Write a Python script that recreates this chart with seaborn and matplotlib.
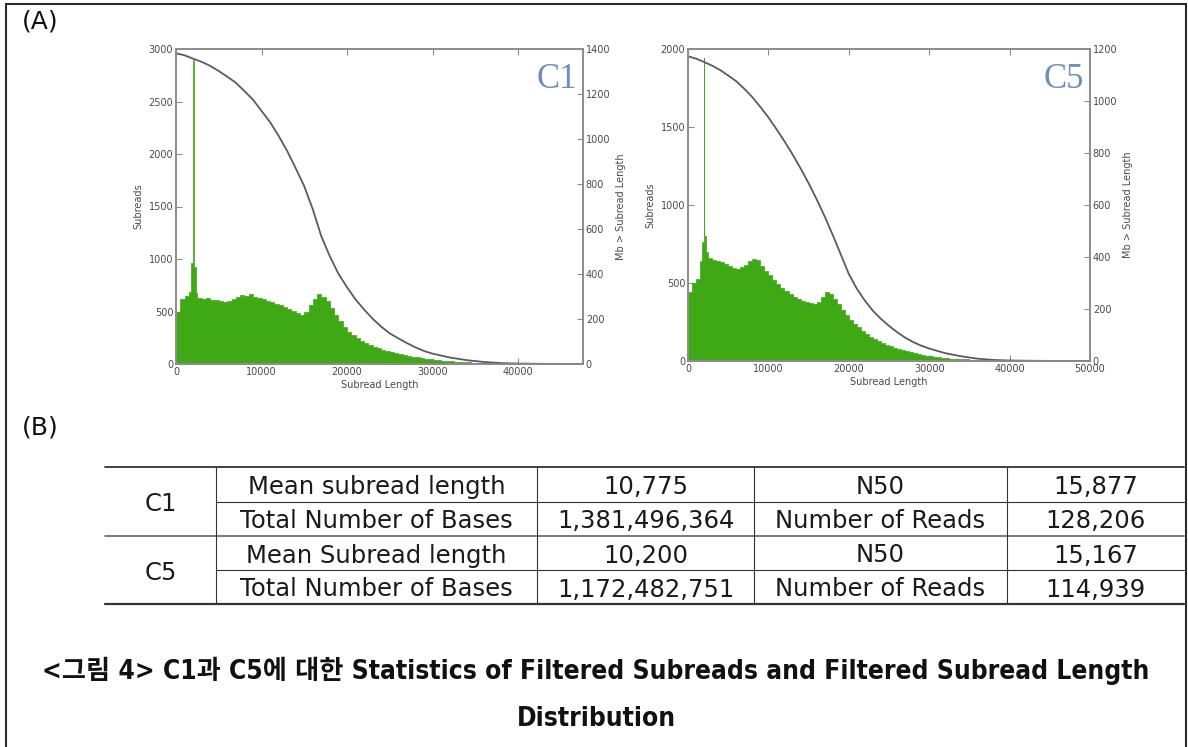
import numpy as np
import pandas as pd
import matplotlib
matplotlib.use("Agg")
import matplotlib.pyplot as plt
from matplotlib import font_manager as fm
import seaborn as sns

# ------------------------------------------------------------------ data
# histogram bins (bp): fine bins around the ~2 kb spike, then 500 bp bins
lead_edges = [0, 500, 1000, 1500, 1750, 1950, 2050, 2300]

c1_lead_counts = [500, 615, 645, 690, 960, 2900, 920, 680]
c1_counts_500 = [  # bins starting 2500, 3000, ... 47000
    630, 615, 625, 605, 612, 598, 590, 602, 622, 640,
    655, 648, 662, 640, 628, 615, 602, 590, 575, 560,
    545, 525, 505, 485, 470, 500, 560, 620, 670, 640,
    600, 530, 470, 410, 350, 305, 275, 245, 220, 200,
    180, 160, 148, 135, 125, 115, 105, 95, 85, 76,
    68, 62, 56, 51, 46, 41, 37, 33, 29, 26,
    23, 20, 18, 16, 14, 12, 10, 9, 8, 7,
    6, 5, 4, 4, 3, 3, 2, 2, 2, 1,
    1, 1, 1, 1, 0, 0, 0, 0, 0, 0,
]

c5_lead_counts = [440, 500, 525, 640, 760, 1940, 800, 700]
c5_counts_500 = [  # bins starting 2500, 3000, ... 49500
    660, 650, 642, 635, 625, 610, 598, 590, 600, 615,
    640, 655, 645, 612, 580, 550, 520, 492, 470, 450,
    428, 408, 396, 385, 376, 370, 366, 378, 410, 440,
    428, 396, 368, 330, 295, 265, 240, 215, 195, 175,
    156, 140, 128, 115, 104, 95, 85, 76, 68, 61,
    55, 49, 43, 38, 34, 30, 26, 23, 20, 18,
    16, 14, 12, 11, 10, 9, 8, 7, 6, 5,
    5, 4, 3, 3, 2, 2, 2, 1, 1, 1,
    1, 1, 0, 0, 0, 0, 0, 0, 0, 0,
    0, 0, 0, 0, 0,
]

# Mb contained in subreads longer than a given length
c1_curve_x = [0, 1000, 2000, 3000, 4000, 5000, 6000, 7000, 8000, 9000,
              10000, 11000, 12000, 13000, 14000, 15000, 16000, 17000, 18000, 19000,
              20000, 21000, 22000, 23000, 24000, 25000, 26000, 27000, 28000, 29000,
              30000, 32000, 34000, 36000, 38000, 40000, 42000, 44000, 46000, 48000]
c1_curve_mb = [1381, 1372, 1357, 1343, 1325, 1302, 1277, 1250, 1213, 1175,
               1125, 1075, 1014, 947, 870, 790, 687, 567, 478, 401,
               341, 287, 242, 201, 166, 136, 114, 93, 74, 58,
               46, 29, 17, 9, 4, 2, 1, 0.5, 0.2, 0]

c5_curve_x = [0, 1000, 2000, 3000, 4000, 5000, 6000, 7000, 8000, 9000,
              10000, 11000, 12000, 13000, 14000, 15000, 16000, 17000, 18000, 19000,
              20000, 21000, 22000, 23000, 24000, 25000, 26000, 27000, 28000, 29000,
              30000, 32000, 34000, 36000, 38000, 40000, 42000, 44000, 46000, 48000, 50000]
c5_curve_mb = [1172, 1163, 1150, 1136, 1119, 1098, 1076, 1047, 1015, 977,
               937, 892, 845, 795, 741, 684, 622, 556, 485, 410,
               335, 278, 232, 193, 162, 135, 111, 90, 73, 59,
               48, 30, 18, 9, 4, 2, 1, 0.5, 0.2, 0.1, 0]

c1_xticks = [0, 10000, 20000, 30000, 40000]
c5_xticks = [0, 10000, 20000, 30000, 40000, 50000]
c1_left_ticks = [0, 500, 1000, 1500, 2000, 2500, 3000]
c1_right_ticks = [0, 200, 400, 600, 800, 1000, 1200, 1400]
c5_left_ticks = [0, 500, 1000, 1500, 2000]
c5_right_ticks = [0, 200, 400, 600, 800, 1000, 1200]

table_samples = ["C1", "C5"]
table_labels_a = [["Mean subread length", "Total Number of Bases"],
                  ["Mean Subread length", "Total Number of Bases"]]
table_values_a = [["10,775", "1,381,496,364"], ["10,200", "1,172,482,751"]]
table_labels_b = [["N50", "Number of Reads"], ["N50", "Number of Reads"]]
table_values_b = [["15,877", "128,206"], ["15,167", "114,939"]]

caption_line1 = "<그림 4> C1과 C5에 대한 Statistics of Filtered Subreads and Filtered Subread Length"
caption_line2 = "Distribution"

# ------------------------------------------------------------------ style
sns.set_style("white")
plt.rcParams["font.family"] = ["DejaVu Sans", "Noto Sans CJK KR"]

GREEN = "#3fa815"
CURVE = "#5b5868"
SPINE = "#8c8c8c"
TICKLBL = "#4a4a4a"
TAGCOL = "#6f8fb8"

W, H = 1188, 747
fig = plt.figure(figsize=(W / 100, H / 100), dpi=100)
fig.patch.set_facecolor("white")


def px_axes(l, t, r, b, **kw):
    return fig.add_axes([l / W, 1 - b / H, (r - l) / W, (b - t) / H], **kw)


def panel(ax, lead_counts, counts_500, last_edge, cx, cy, xmax, lmax, rmax,
          xticks, lticks, rticks, tag):
    edges = list(lead_edges) + list(range(2500, last_edge + 1, 500))
    counts = list(lead_counts) + list(counts_500)
    centers = [(a + b) / 2 for a, b in zip(edges[:-1], edges[1:])]
    df = pd.DataFrame({"length": centers, "n": counts})
    sns.histplot(data=df, x="length", weights="n", bins=edges, element="step",
                 fill=True, color=GREEN, alpha=1.0, linewidth=0.5, ax=ax)
    ax.set_xlim(0, xmax)
    ax.set_ylim(0, lmax)
    ax.set_xticks(xticks)
    ax.set_xticklabels([str(v) for v in xticks])
    ax.set_yticks(lticks)
    ax.set_yticklabels([str(v) for v in lticks])
    ax.set_xlabel("Subread Length", fontsize=7, color=TICKLBL, labelpad=2)
    ax.set_ylabel("Subreads", fontsize=7, color=TICKLBL, labelpad=4)
    ax.tick_params(axis="both", direction="in", length=4, width=0.8, color=SPINE,
                   labelcolor=TICKLBL, labelsize=7, pad=2)
    ax.tick_params(axis="x", top=True, bottom=True)
    ax.tick_params(axis="y", left=True, right=False)

    ax2 = ax.twinx()
    sns.lineplot(x=cx, y=cy, ax=ax2, color=CURVE, linewidth=1.3)
    ax2.set_ylim(0, rmax)
    ax2.set_xlim(0, xmax)
    ax2.set_yticks(rticks)
    ax2.set_yticklabels([str(v) for v in rticks])
    ax2.set_ylabel("Mb > Subread Length", fontsize=7, color=TICKLBL, labelpad=4)
    ax2.tick_params(axis="y", direction="in", length=4, width=0.8, color=SPINE,
                    labelcolor=TICKLBL, labelsize=7, pad=2, right=True, left=False)
    for a in (ax, ax2):
        for s in a.spines.values():
            s.set_color(SPINE)
            s.set_linewidth(1.2)
            s.set_visible(True)
    ax2.text(0.985, 0.955, tag, transform=ax2.transAxes, ha="right", va="top",
             fontsize=25, family="Liberation Serif", color=TAGCOL)


ax_c1 = px_axes(176, 49, 583, 364)
panel(ax_c1, c1_lead_counts, c1_counts_500, 47500, c1_curve_x, c1_curve_mb,
      47600, 3000, 1400, c1_xticks, c1_left_ticks, c1_right_ticks, "C1")

ax_c5 = px_axes(688, 49, 1090, 361)
panel(ax_c5, c5_lead_counts, c5_counts_500, 50000, c5_curve_x, c5_curve_mb,
      50000, 2000, 1200, c5_xticks, c5_left_ticks, c5_right_ticks, "C5")

# ------------------------------------------------------------------ overlay (frame, table, caption)
ov = fig.add_axes([0, 0, 1, 1], zorder=-1)
ov.set_xlim(0, W)
ov.set_ylim(H, 0)
ov.axis("off")

# outer frame (open at the bottom)
ov.plot([6, 6, 1186, 1186], [H, 3.5, 3.5, H], color="#2a2a2a", lw=1.5,
        solid_joinstyle="miter")

ov.text(22, 22, "(A)", fontsize=18, ha="left", va="center", color="#111")
ov.text(22, 427, "(B)", fontsize=18, ha="left", va="center", color="#111")

# table grid
tx0, tx1 = 105, 1184
col_x = [216, 537, 754, 1007]
row_y = [467, 501.5, 536, 570, 604]
ov.plot([tx0, tx1], [row_y[0]] * 2, color="#333", lw=1.3)
ov.plot([tx0, tx1], [row_y[2]] * 2, color="#555", lw=1.1)
ov.plot([tx0, tx1], [row_y[4]] * 2, color="#333", lw=1.6)
for y in (row_y[1], row_y[3]):
    ov.plot([col_x[0], tx1], [y, y], color="#333", lw=0.8)
for x in col_x:
    ov.plot([x, x], [row_y[0], row_y[4]], color="#333", lw=0.8)

col_centers = [(tx0 + col_x[0]) / 2, (col_x[0] + col_x[1]) / 2,
               (col_x[1] + col_x[2]) / 2, (col_x[2] + col_x[3]) / 2,
               (col_x[3] + tx1) / 2]
TFS = 17.5
TCOL = "#1a1a1a"
for i, sample in enumerate(table_samples):
    ov.text(col_centers[0], (row_y[2 * i] + row_y[2 * i + 2]) / 2, sample,
            fontsize=TFS, ha="center", va="center_baseline", color=TCOL)
    for j in range(2):
        yc = (row_y[2 * i + j] + row_y[2 * i + j + 1]) / 2
        ov.text(col_centers[1], yc, table_labels_a[i][j], fontsize=TFS,
                ha="center", va="center_baseline", color=TCOL)
        ov.text(col_centers[2], yc, table_values_a[i][j], fontsize=TFS,
                ha="center", va="center_baseline", color=TCOL)
        ov.text(col_centers[3], yc, table_labels_b[i][j], fontsize=TFS,
                ha="center", va="center_baseline", color=TCOL)
        ov.text(col_centers[4], yc, table_values_b[i][j], fontsize=TFS,
                ha="center", va="center_baseline", color=TCOL)

# caption: prefer a narrow sans for the Latin part, Noto CJK for Hangul
names = {f.name for f in fm.fontManager.ttflist}
cap_family = []
cap_stretch = "normal"
if "Liberation Sans Narrow" in names:
    cap_family.append("Liberation Sans Narrow")
elif any(f.name == "DejaVu Sans" and f.stretch == "condensed" for f in fm.fontManager.ttflist):
    cap_family.append("DejaVu Sans")
    cap_stretch = "condensed"
cap_family.append("Noto Sans CJK KR")

cap1 = ov.text(596, 668, caption_line1, fontsize=16, fontweight="bold",
               fontstretch=cap_stretch, family=cap_family, ha="center",
               va="center_baseline", color="#111")
cap2 = ov.text(596, 716, caption_line2, fontsize=16, fontweight="bold",
               fontstretch=cap_stretch, family=cap_family, ha="center",
               va="center_baseline", color="#111")
fig.canvas.draw()
w1 = cap1.get_window_extent(renderer=fig.canvas.get_renderer()).width
fs = 16 * 1107.0 / max(w1, 1)
fs = min(fs, 19.5)
cap1.set_fontsize(fs)
cap2.set_fontsize(fs)

fig.savefig("out.png", dpi=100, facecolor="white")
